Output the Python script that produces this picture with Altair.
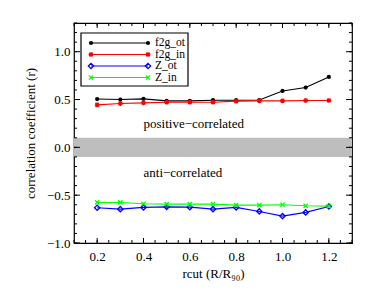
import altair as alt
import pandas as pd

rcut = [0.2, 0.3, 0.4, 0.5, 0.6, 0.7, 0.8, 0.9, 1.0, 1.1, 1.2]
f2g_ot = [0.505, 0.500, 0.507, 0.486, 0.486, 0.493, 0.493, 0.495, 0.590, 0.625, 0.736]
f2g_in = [0.444, 0.458, 0.465, 0.472, 0.472, 0.472, 0.483, 0.486, 0.486, 0.490, 0.490]
z_ot = [-0.632, -0.646, -0.628, -0.622, -0.625, -0.646, -0.628, -0.670, -0.719, -0.680, -0.618]
z_in = [-0.576, -0.576, -0.590, -0.594, -0.594, -0.594, -0.604, -0.604, -0.600, -0.611, -0.615]

series_names = ["f2g_ot", "f2g_in", "Z_ot", "Z_in"]
series_values = [f2g_ot, f2g_in, z_ot, z_in]
series_colors = ["#000000", "#FF0000", "#0000FF", "#00FF00"]

x_ticks_major = [0.2, 0.4, 0.6, 0.8, 1.0, 1.2]
x_ticks_minor = [round(0.1 + 0.05 * i, 2) for i in range(25)]
y_ticks_major = [-1.0, -0.5, 0.0, 0.5, 1.0]
y_ticks_minor = [round(-1.0 + 0.1 * i, 1) for i in range(24)]

W, H = 278, 220
FONT = "'Liberation Serif', 'Times New Roman', 'DejaVu Serif', serif"

ASTER = "M-1,0L1,0M0,-1L0,1M-0.75,-0.75L0.75,0.75M-0.75,0.75L0.75,-0.75"
XMARK = "M-1,-1L1,1M-1,1L1,-1"

xs = alt.Scale(domain=[0.1, 1.3], nice=False, zero=False)
ys = alt.Scale(domain=[-1.0, 1.3], nice=False, zero=False)

X = alt.X("x:Q", scale=xs,
          axis=alt.Axis(values=x_ticks_major, format=".1f", ticks=False, domain=False,
                        grid=False, labelPadding=7, title="rcut (R/R₉₀)", titlePadding=4))
Y = alt.Y("y:Q", scale=ys,
          axis=alt.Axis(values=y_ticks_major, format=".1f", ticks=False, domain=False,
                        grid=False, labelPadding=4, title="correlation coefficient (r)",
                        titlePadding=9))

band = alt.Chart(pd.DataFrame({"y": [-0.1], "y2": [0.1]})).mark_rect(color="#BEBEBE").encode(
    y=Y, y2="y2:Q", x=alt.value(0), x2=alt.value(W))

layers = [band]

notes = pd.DataFrame({"x": [0.4, 0.4], "y": [0.24, -0.27],
                      "t": ["positive−correlated", "anti−correlated"]})
layers.append(alt.Chart(notes).mark_text(font=FONT, fontSize=13, align="left",
                                         baseline="middle", color="black").encode(
    x=X, y=Y, text="t:N"))

shape_specs = [
    dict(shape="circle", filled=True, size=18, strokeWidth=1),
    dict(shape=ASTER, filled=False, size=22, strokeWidth=1.4),
    dict(shape="diamond", filled=False, size=28, strokeWidth=1.3),
    dict(shape=XMARK, filled=False, size=18, strokeWidth=1.3),
]

for name, vals, col, sp in zip(series_names, series_values, series_colors, shape_specs):
    df = pd.DataFrame({"x": rcut, "y": vals})
    layers.append(alt.Chart(df).mark_line(color=col, strokeWidth=1.1).encode(x=X, y=Y))
    layers.append(alt.Chart(df).mark_point(color=col, opacity=1, **sp).encode(x=X, y=Y))

# frame ticks (inward)
def xticks(vals, ln):
    d = pd.DataFrame({"x": vals})
    return [
        alt.Chart(d).mark_rule(color="black", strokeWidth=1).encode(
            x=X, y=alt.value(H), y2=alt.value(H - ln)),
        alt.Chart(d).mark_rule(color="black", strokeWidth=1).encode(
            x=X, y=alt.value(0), y2=alt.value(ln)),
    ]

def yticks(vals, ln):
    d = pd.DataFrame({"y": vals})
    return [
        alt.Chart(d).mark_rule(color="black", strokeWidth=1).encode(
            y=Y, x=alt.value(0), x2=alt.value(ln)),
        alt.Chart(d).mark_rule(color="black", strokeWidth=1).encode(
            y=Y, x=alt.value(W), x2=alt.value(W - ln)),
    ]

layers += xticks(x_ticks_minor, 3) + xticks(x_ticks_major, 5)
layers += yticks(y_ticks_minor, 3) + yticks(y_ticks_major, 6)

# legend box
one = pd.DataFrame({"a": [0]})
layers.append(alt.Chart(one).mark_rect(fill="white", stroke="black", strokeWidth=1.2).encode(
    x=alt.value(7), x2=alt.value(114), y=alt.value(10), y2=alt.value(63)))
row_y = [20, 31.5, 43, 54.5]
for name, col, sp, ry in zip(series_names, series_colors, shape_specs, row_y):
    d = pd.DataFrame({"s": [name]})
    layers.append(alt.Chart(d).mark_rule(color=col, strokeWidth=1.1).encode(
        x=alt.value(17), x2=alt.value(74), y=alt.value(ry)))
    for px in (17, 74):
        layers.append(alt.Chart(d).mark_point(color=col, opacity=1, **sp).encode(
            x=alt.value(px), y=alt.value(ry)))
    layers.append(alt.Chart(d).mark_text(font=FONT, fontSize=11.5, align="left",
                                         baseline="middle", color="black").encode(
        x=alt.value(81), y=alt.value(ry), text="s:N"))

chart = alt.layer(*layers).properties(
    width=W, height=H,
    autosize=alt.AutoSizeParams(type="none"),
    padding={"left": 66, "top": 15, "right": 14, "bottom": 39},
).configure_view(stroke="black", strokeWidth=1.2).configure_axis(
    labelFont=FONT, titleFont=FONT, labelFontSize=13, titleFontSize=13,
    labelColor="black", titleColor="black", titleFontWeight="normal",
)

chart.save("out.html", embed_options={"renderer": "svg", "actions": False})
